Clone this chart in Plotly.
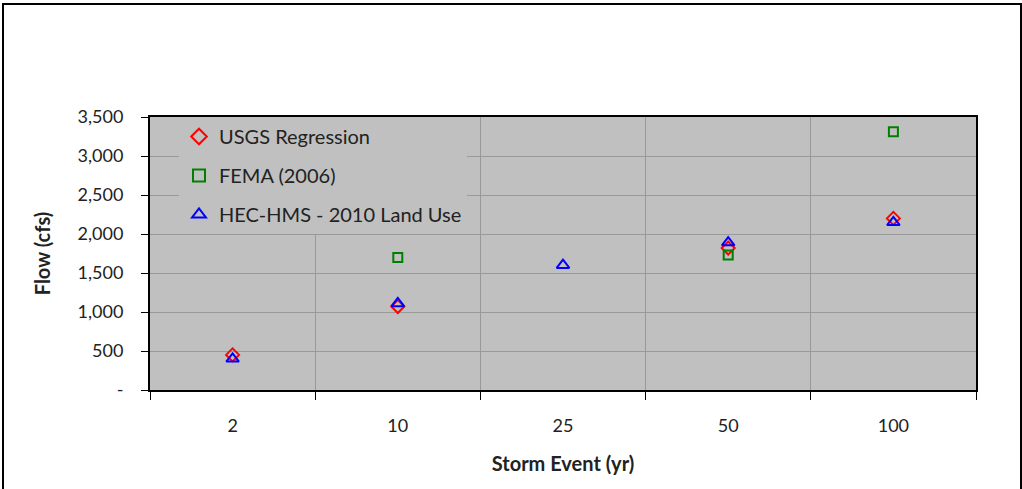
import plotly.graph_objects as go

events = ["2", "10", "25", "50", "100"]
usgs = [450, 1070, None, 1820, 2200]
fema = [None, 1700, None, 1730, 3310]
hec = [400, 1110, 1600, 1890, 2150]

ytickvals = [0, 500, 1000, 1500, 2000, 2500, 3000, 3500]
yticktext = ["-", "500", "1,000", "1,500", "2,000", "2,500", "3,000", "3,500"]

FONT = "Lato, 'DejaVu Sans', sans-serif"

fig = go.Figure()
fig.add_trace(go.Scatter(x=events, y=usgs, mode="markers", name="USGS Regression",
                         legendgroup="a",
                         marker=dict(symbol="diamond-open", size=10, color="#ff0000",
                                     line=dict(width=2, color="#ff0000"))))
fig.add_trace(go.Scatter(x=events, y=fema, mode="markers", name="FEMA (2006)",
                         legendgroup="b",
                         marker=dict(symbol="square-open", size=9, color="#008000",
                                     line=dict(width=2, color="#008000"))))
fig.add_trace(go.Scatter(x=events, y=hec, mode="markers", name="HEC-HMS - 2010 Land Use",
                         legendgroup="c",
                         marker=dict(symbol="triangle-up-open", size=11, color="#0000ff",
                                     line=dict(width=2, color="#0000ff"))))

L, R, T, B = 150, 46, 117, 99
W, H = 1022, 489
pw, ph = W - L - R, H - T - B

fig.update_layout(
    width=W, height=H,
    margin=dict(l=L, r=R, t=T, b=B),
    paper_bgcolor="white",
    plot_bgcolor="#c0c0c0",
    font=dict(family=FONT, size=18, color="#222222"),
    showlegend=True,
    legend=dict(x=(179 - L) / pw, y=1.0, xanchor="left", yanchor="top",
                bgcolor="#c0c0c0", borderwidth=0,
                font=dict(family=FONT, size=20, color="#222222"),
                tracegroupgap=10, itemsizing="constant"),
    xaxis=dict(type="category", categoryorder="array", categoryarray=events,
               range=[-0.5, 4.5], tickson="boundaries", ticks="outside", ticklen=8,
               tickcolor="#000000", showgrid=True, gridcolor="#999999", gridwidth=1,
               showline=True, linecolor="#000000", linewidth=2, mirror=True,
               ticklabelstandoff=18, tickfont=dict(size=18),
               title=dict(text="<b>Storm Event (yr)</b>", font=dict(size=20), standoff=22),
               zeroline=False),
    yaxis=dict(range=[0, 3500], tickvals=ytickvals, ticktext=yticktext,
               ticks="outside", ticklen=7, tickcolor="#000000",
               showgrid=True, gridcolor="#999999", gridwidth=1,
               showline=True, linecolor="#000000", linewidth=2, mirror=True,
               ticklabelstandoff=14, tickfont=dict(size=18),
               title=dict(text="<b>Flow (cfs)</b>", font=dict(size=20), standoff=22),
               zeroline=False),
)

fig.add_shape(type="rect", xref="paper", yref="paper",
              x0=(3 - L) / pw, x1=(1021 - L) / pw,
              y0=-(495 - T - ph) / ph, y1=1 + (T - 4) / ph,
              line=dict(color="#000000", width=2), layer="below")

fig.write_html("out.html")
